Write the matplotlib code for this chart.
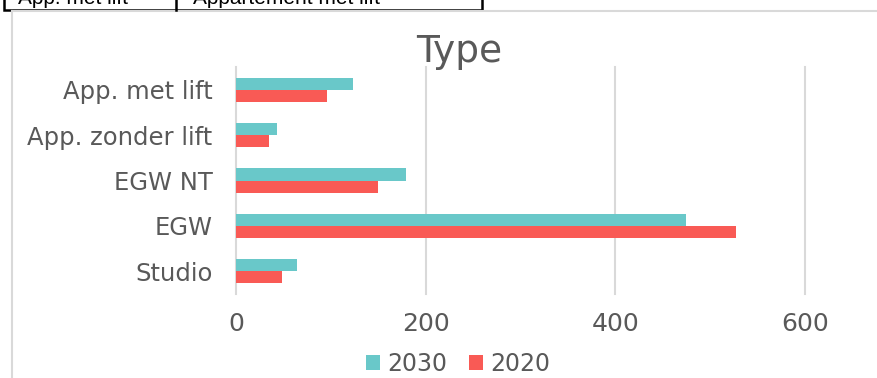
import matplotlib.pyplot as plt
from matplotlib.patches import Patch, Rectangle
from matplotlib.lines import Line2D
import numpy as np

# data
categories = ['App. met lift', 'App. zonder lift', 'EGW NT', 'EGW', 'Studio']
vals_2030 = [123, 43, 179, 474, 64]
vals_2020 = [96, 35, 150, 527, 48]
series_names = ['2030', '2020']
xticks = [0, 200, 400, 600]

teal = '#69C8C9'
red = '#F95A55'
txt = '#595959'
grid = '#D9D9D9'

W, H = 877, 378
fig = plt.figure(figsize=(W / 100, H / 100), dpi=100)

# axes placed in pixel coordinates of the reference
ax = fig.add_axes([236 / W, 1 - 294 / H, (805 - 236) / W, (294 - 67) / H])
y = np.arange(len(categories))
bh = 0.265
ax.barh(y - bh / 2, vals_2030, height=bh, color=teal, label=series_names[0], zorder=3)
ax.barh(y + bh / 2, vals_2020, height=bh, color=red, label=series_names[1], zorder=3)
ax.set_ylim(len(categories) - 0.5, -0.5)
ax.set_xlim(0, 600)
ax.set_xticks(xticks)
ax.set_yticks(y)
ax.set_yticklabels(categories)
for s in ax.spines.values():
    s.set_visible(False)
for xv in xticks:
    ax.axvline(xv, color=grid, lw=1.5, zorder=1, clip_on=False)
ax.tick_params(axis='y', length=0, pad=17, labelsize=17.5, labelcolor=txt)
ax.tick_params(axis='x', length=0, pad=13, labelsize=18, labelcolor=txt)

fig.text(459.5 / W, 1 - 62 / H, 'Type', ha='center', va='baseline', fontsize=27, color=txt)

handles = [Patch(facecolor=teal, edgecolor='none'), Patch(facecolor=red, edgecolor='none')]
leg = fig.legend(handles, series_names, loc='center', bbox_to_anchor=(458 / W, 1 - 364 / H),
                 ncol=2, frameon=False, fontsize=17, handlelength=0.6, handleheight=0.6,
                 handletextpad=0.3, columnspacing=0.9, borderaxespad=0, labelcolor=txt)

# chart border (light gray), partly cut off
fig.add_artist(Line2D([11.5 / W, 11.5 / W], [0, 1 - 11 / H], color=grid, lw=1.5))
fig.add_artist(Line2D([11.5 / W, 1], [1 - 11 / H, 1 - 11 / H], color=grid, lw=1.5))

# cut-off table row at the very top
fig.add_artist(Rectangle((4 / W, 1 - 10 / H), (482 - 4) / W, 30 / H, transform=fig.transFigure,
                         facecolor='white', edgecolor='black', lw=1.8))
fig.add_artist(Line2D([176 / W, 176 / W], [1 - 10 / H, 1], color='black', lw=1.8))
fig.text(18 / W, 1 - 4 / H, 'App. met lift', ha='left', va='baseline', fontsize=15,
         family='Liberation Sans', color='black')
fig.text(193 / W, 1 - 4 / H, 'Appartement met lift', ha='left', va='baseline', fontsize=15,
         family='Liberation Sans', color='black')

fig.savefig('out.png', dpi=100)
